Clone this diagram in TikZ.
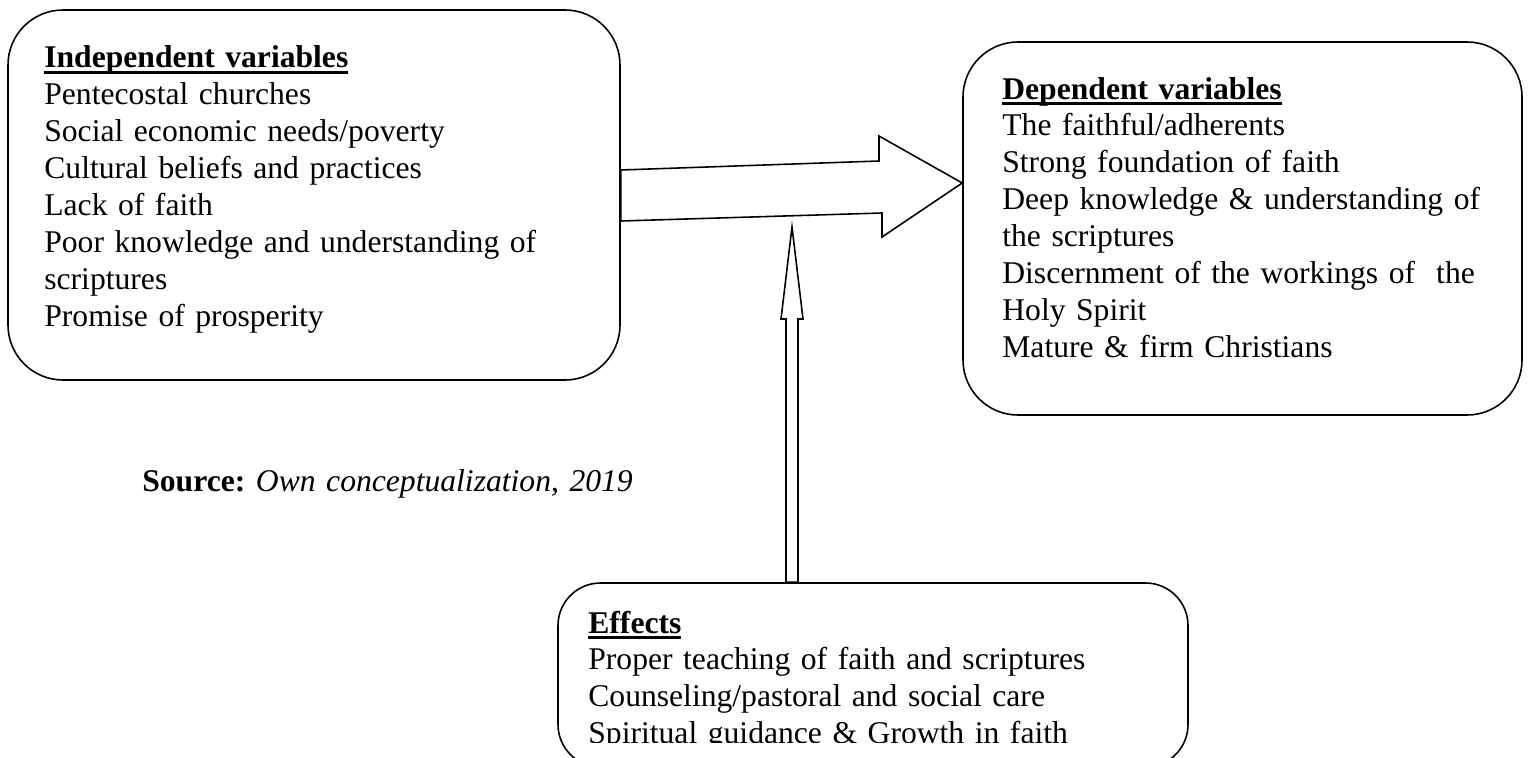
\documentclass[tikz,border=0pt]{standalone}
\usepackage{fontspec}
\setmainfont{Liberation Serif}
\usetikzlibrary{fit}
\frenchspacing

% bold heading with a heavy underline close to the text
\newcommand{\headline}[1]{\setbox0\hbox{\bfseries #1}%
  \rlap{\rule[-3.2pt]{\wd0}{1.3pt}}\box0}

\begin{document}
\begin{tikzpicture}[
        x=0.02cm, y=-0.02cm,
        panel/.style={draw, line width=0.9pt, rounded corners=1.1cm, inner sep=0pt},
        listtext/.style={anchor=base west, align=left, inner sep=0pt, text width=11.5cm,
          font=\fontsize{18}{21}\selectfont},
        blockarrow/.style={draw, line width=0.9pt, line join=miter, fill=white}
      ]
        \useasboundingbox (0,0) rectangle (1530,757);
        \clip (0,0) rectangle (1530,757);

        % The three boxes
        \node[panel, fit={(8,10) (620,380)}] (indep) {};
        \node[panel, fit={(963,42) (1522,415)}] (dep) {};
        \node[panel, rounded corners=0.85cm, fit={(558,583) (1188,767)}] (effects) {};

        % Texts in the boxes
        \node[listtext] (indeptext) at (44,68) {\headline{Independent variables}\\
          Pentecostal churches\\
          Social economic needs/poverty\\
          Cultural beliefs and practices\\
          Lack of faith\\
          Poor knowledge and understanding of\\
          scriptures\\
          Promise of prosperity};
        \node[listtext] (deptext) at (1002,99) {\headline{Dependent variables}\\
          The faithful/adherents\\
          Strong foundation of faith\\
          Deep knowledge \& understanding of\\
          the scriptures\\
          Discernment of the workings of~ the\\
          Holy Spirit\\
          Mature \& firm Christians};
        \begin{scope}
          \clip (558,583) rectangle (1188,742);
          \node[listtext] (effectstext) at (588,633) {\headline{Effects}\\
            Proper teaching of faith and scriptures\\
            Counseling/pastoral and social care\\
            Spiritual guidance \& Growth in faith};
        \end{scope}

        \node[listtext] (source) at (142,491) {\textbf{Source:} \textit{Own conceptualization, 2019}};

        % Block arrows
        \draw[blockarrow] (indep.east |- 0,170) -- (879,161) -- (879,136) -- (dep.west |- 0,183)
          -- (882,237) -- (882,213) -- (indep.east |- 0,221) -- cycle;
        \draw[blockarrow] (786,0 |- effects.north) -- (786,319) -- (781,319) -- (792,227)
          -- (803,319) -- (798,319) -- (798,0 |- effects.north) -- cycle;
      \end{tikzpicture}
\end{document}
